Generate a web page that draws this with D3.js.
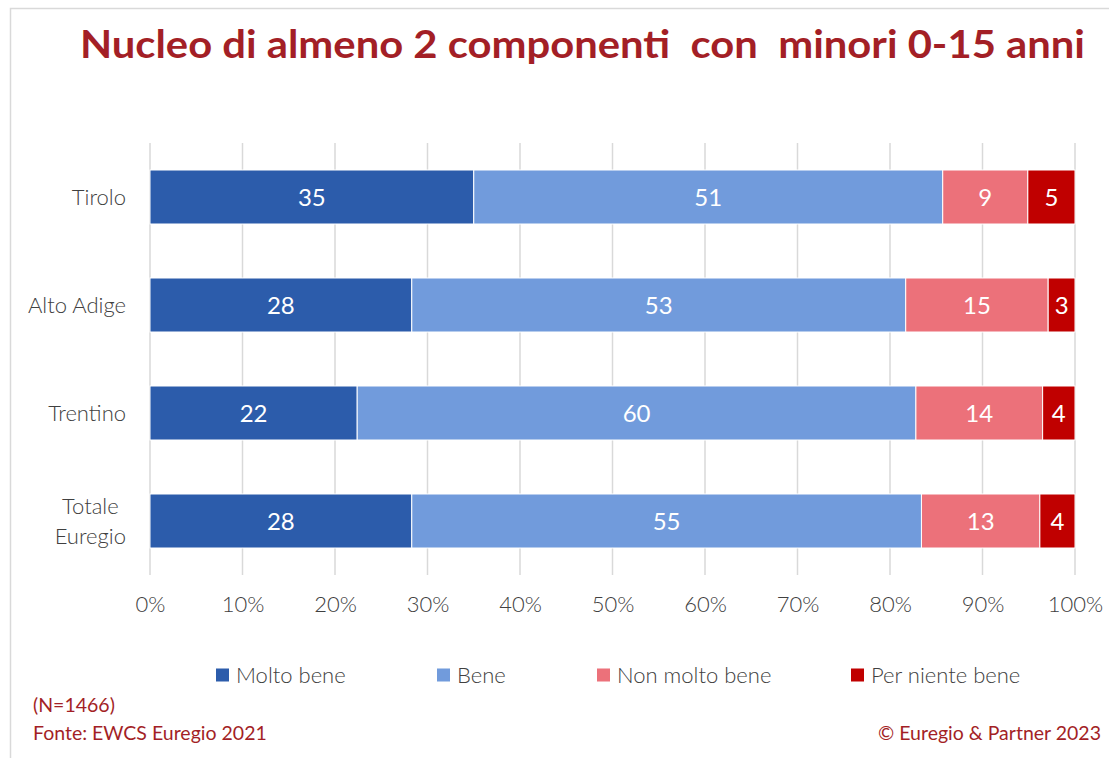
<!DOCTYPE html>
<html>
<head>
<meta charset="utf-8">
<script src="https://cdn.jsdelivr.net/npm/d3@7"></script>
<style>
  body { margin: 0; background: #fff; }
  svg { display: block; font-family: "Source Sans Pro", Lato, "Open Sans", sans-serif; }
</style>
</head>
<body>
<div id="chart"></div>
<script>
// categories (top to bottom) and the four answer series, in percent
const categories = ['Tirolo', 'Alto Adige', 'Trentino', 'Totale\nEuregio'];
const seriesNames = ['Molto bene', 'Bene', 'Non molto bene', 'Per niente bene'];
const moltoBene   = [35.0, 28.3, 22.4, 28.3];
const bene        = [50.7, 53.4, 60.4, 55.1];
const nonMolto    = [9.2, 15.4, 13.7, 12.8];
const perNiente   = [5.1, 2.9, 3.5, 3.8];
const seriesLabels = [
  [35, 28, 22, 28],
  [51, 53, 60, 55],
  [9, 15, 14, 13],
  [5, 3, 4, 4]
];
const xTicks = [0, 10, 20, 30, 40, 50, 60, 70, 80, 90, 100];
const colors = ['#2c5cab', '#719bdc', '#ec717a', '#c00000'];

const width = 1109, height = 758;
const darkRed = '#a31f26';
const textGrey = '#404040';

const svg = d3.select('#chart').append('svg')
  .attr('width', width)
  .attr('height', height);

// outer frame (only top + left visible)
svg.append('path')
  .attr('d', 'M10.5,' + height + ' V8.5 H' + width)
  .attr('fill', 'none')
  .attr('stroke', '#d9d9d9')
  .attr('stroke-width', 1.5);

// title
svg.append('text')
  .attr('x', 80)
  .attr('y', 58)
  .attr('textLength', 1005)
  .attr('lengthAdjust', 'spacingAndGlyphs')
  .style('white-space', 'pre')
  .style('font-size', '39px')
  .style('font-weight', 700)
  .style('fill', darkRed)
  .text('Nucleo di almeno 2 componenti  con  minori 0-15 anni');

const x = d3.scaleLinear().domain([0, 100]).range([150, 1075]);
const y = d3.scaleBand().domain(categories).range([143, 575])
  .paddingInner(0.5).paddingOuter(0.25);

// gridlines
svg.append('g')
  .selectAll('line')
  .data(xTicks)
  .join('line')
    .attr('x1', d => x(d)).attr('x2', d => x(d))
    .attr('y1', 143).attr('y2', 575)
    .attr('stroke', '#d9d9d9')
    .attr('stroke-width', 1.5);

// x axis labels
const xAxis = d3.axisBottom(x).tickValues(xTicks).tickSize(0).tickPadding(0)
  .tickFormat(d => d + '%');
svg.append('g')
  .attr('transform', 'translate(0,596)')
  .call(xAxis)
  .call(g => g.select('.domain').remove())
  .selectAll('text')
    .attr('dy', '0.71em')
    .style('font-family', '"Source Sans Pro", Lato, "Open Sans", sans-serif')
    .style('font-size', '22px')
    .style('font-weight', 300)
    .style('fill', textGrey);

// stack data
const allSeries = [moltoBene, bene, nonMolto, perNiente];
const rows = categories.map((c, i) => {
  const r = {cat: c};
  seriesNames.forEach((s, k) => r[s] = allSeries[k][i]);
  return r;
});
const stacked = d3.stack().keys(seriesNames)(rows);

const layers = svg.append('g')
  .selectAll('g')
  .data(stacked)
  .join('g')
    .attr('fill', (d, k) => colors[k]);

layers.selectAll('rect')
  .data(d => d)
  .join('rect')
    .attr('x', d => x(d[0]))
    .attr('y', d => y(d.data.cat))
    .attr('width', d => x(d[1]) - x(d[0]))
    .attr('height', y.bandwidth())
    .attr('stroke', '#fff')
    .attr('stroke-width', 1);

// value labels
stacked.forEach((layer, k) => {
  svg.append('g')
    .selectAll('text')
    .data(layer)
    .join('text')
      .attr('x', d => (x(d[0]) + x(d[1])) / 2)
      .attr('y', d => y(d.data.cat) + y.bandwidth() / 2)
      .attr('dy', '0.36em')
      .attr('text-anchor', 'middle')
      .style('font-size', '24px')
      .style('fill', '#fff')
      .text((d, i) => seriesLabels[k][i]);
});

// category labels (multi-line ones centred on each other, right edge at 126)
categories.forEach(c => {
  const lines = c.split('\n');
  const cy = y(c) + y.bandwidth() / 2;
  const g = svg.append('g');
  const t = g.append('text')
    .attr('text-anchor', 'middle')
    .style('font-size', '22px')
    .style('font-weight', 300)
    .style('fill', textGrey);
  lines.forEach((l, i) => {
    t.append('tspan')
      .attr('x', 0)
      .attr('y', cy + (i - (lines.length - 1) / 2) * 30)
      .attr('dy', '0.35em')
      .text(l);
  });
  const w = t.node().getBBox().width;
  g.attr('transform', 'translate(' + (126 - w / 2) + ',0)');
});

// legend
const legendX = [216, 437, 597, 851];
const legend = svg.append('g')
  .selectAll('g')
  .data(seriesNames)
  .join('g')
    .attr('transform', (d, i) => 'translate(' + legendX[i] + ',675)');
legend.append('rect')
  .attr('x', 0).attr('y', -6.5)
  .attr('width', 13).attr('height', 13)
  .attr('fill', (d, i) => colors[i]);
legend.append('text')
  .attr('x', 20)
  .attr('dy', '0.35em')
  .style('font-size', '22px')
  .style('font-weight', 300)
  .style('fill', textGrey)
  .text(d => d);

// footnotes
const notes = svg.append('g')
  .style('font-size', '19.5px')
  .style('fill', darkRed);
notes.append('text').attr('x', 33).attr('y', 712).text('(N=1466)');
notes.append('text').attr('x', 33).attr('y', 740).text('Fonte: EWCS Euregio 2021');
notes.append('text').attr('x', 1101).attr('y', 740).attr('text-anchor', 'end')
  .text('© Euregio & Partner 2023');
</script>
</body>
</html>
